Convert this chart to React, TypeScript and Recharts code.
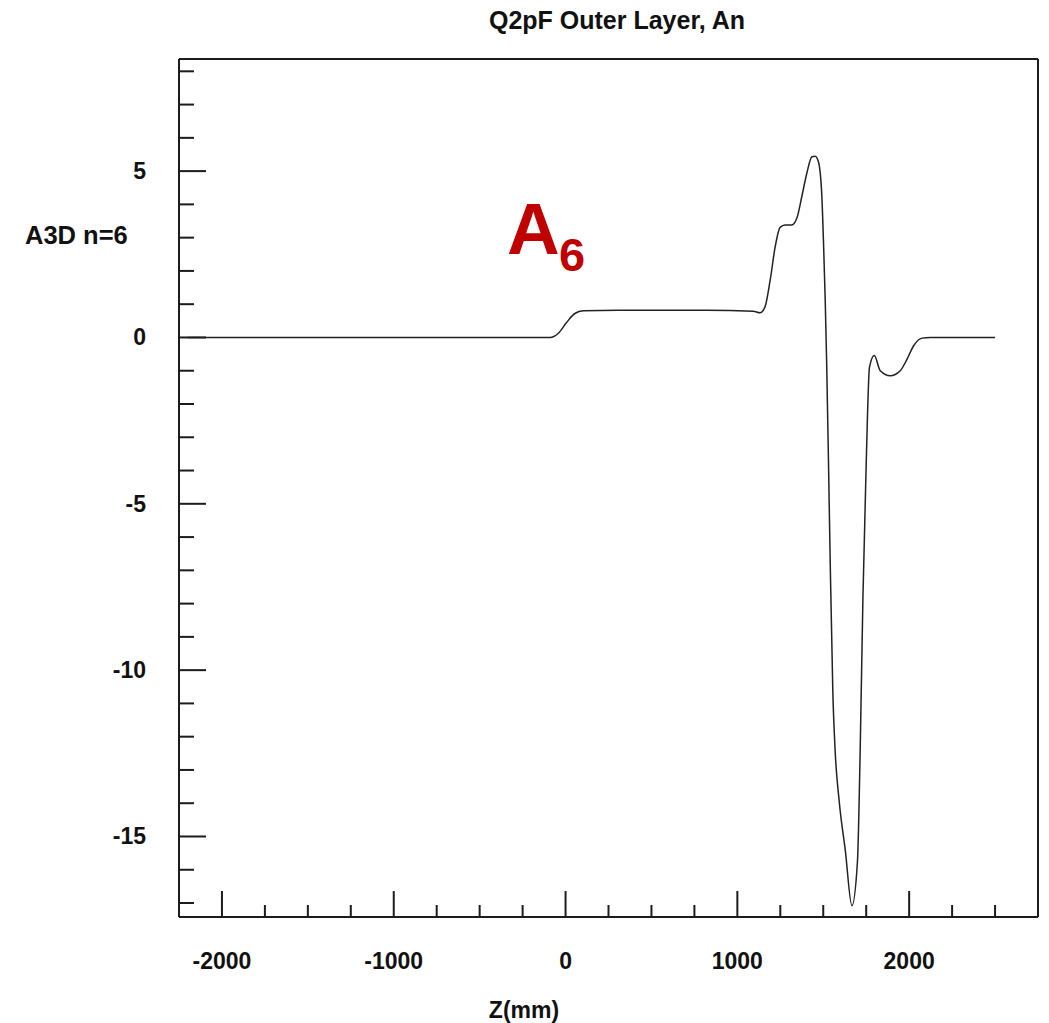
import React from 'react';
import { LineChart, Line, XAxis, YAxis } from 'recharts';

// Z position along the magnet (mm)
const zValues = [
  -2200, -500, -91, -43, 6, 54, 103, 307, 822, 1093, 1132, 1161, 1191, 1220,
  1249, 1278, 1317, 1346, 1375, 1404, 1434, 1453, 1472, 1492, 1501, 1511,
  1520, 1530, 1540, 1556, 1569, 1594, 1628, 1667, 1699, 1715, 1731, 1750,
  1769, 1797, 1832, 1890, 1948, 1987, 2026, 2075, 2123, 2500,
];

// A3D harmonic n=6
const a6Values = [
  0, 0, 0, 0.12, 0.45, 0.72, 0.8, 0.82, 0.82, 0.79, 0.74, 0.92, 1.72, 2.72,
  3.31, 3.38, 3.38, 3.58, 4.23, 4.93, 5.43, 5.45, 5.28, 4.23, 2.92, 1.22,
  -0.8, -3.6, -6.6, -10.7, -12.4, -14.0, -15.4, -17.08, -15.76, -12.4, -7.8,
  -3.8, -0.9, -0.54, -1.0, -1.15, -1.0, -0.66, -0.25, -0.02, 0, 0,
];

const xTicks = [
  -2000, -1750, -1500, -1250, -1000, -750, -500, -250, 0, 250, 500, 750,
  1000, 1250, 1500, 1750, 2000, 2250, 2500,
];
const xLabels = [-2000, -1000, 0, 1000, 2000];

const yTicks = [
  -17, -16, -15, -14, -13, -12, -11, -10, -9, -8, -7, -6, -5, -4, -3, -2, -1,
  0, 1, 2, 3, 4, 5, 6, 7, 8,
];
const yLabels = [-15, -10, -5, 0, 5];

const data = zValues.map((z, i) => ({ z, v: a6Values[i] }));

const FONT = '"Liberation Sans", Arial, Helvetica, sans-serif';
const INK = '#1c1c1c';
const X_DOMAIN: [number, number] = [-2250, 2750];
const Y_DOMAIN: [number, number] = [-17.42, 8.37];

// inward ticks, long at every 1000 mm
const XTick = ({ x, y, payload }: any) => {
  const val = payload.value;
  const major = val % 1000 === 0;
  return (
    <g>
      <line x1={x} x2={x} y1={y} y2={y - (major ? 26 : 12)} stroke={INK} strokeWidth={2} />
      {xLabels.includes(val) && (
        <text x={x} y={y + 52} textAnchor="middle" fontFamily={FONT} fontWeight="bold" fontSize={23} fill="#111">
          {val}
        </text>
      )}
    </g>
  );
};

// inward ticks, long at every 5
const YTick = ({ x, y, payload }: any) => {
  const val = payload.value;
  const major = val % 5 === 0;
  return (
    <g>
      <line x1={x} x2={x + (major ? 27 : 15)} y1={y} y2={y} stroke={INK} strokeWidth={2} />
      {yLabels.includes(val) && (
        <text x={x - 33} y={y + 8} textAnchor="end" fontFamily={FONT} fontWeight="bold" fontSize={23} fill="#111">
          {val}
        </text>
      )}
    </g>
  );
};

export default function App() {
  return (
    <div style={{ position: 'absolute', left: 0, top: 0, width: 1049, height: 1023, background: '#fff' }}>
      <LineChart
        width={1049}
        height={1023}
        data={data}
        margin={{ top: 58, right: 10, bottom: 105, left: 178 }}
      >
        <XAxis
          dataKey="z"
          type="number"
          domain={X_DOMAIN}
          ticks={xTicks}
          interval={0}
          allowDataOverflow
          height={1}
          tickSize={0}
          tickMargin={0}
          tickLine={false}
          tick={<XTick />}
          axisLine={{ stroke: INK, strokeWidth: 2 }}
        />
        <XAxis
          xAxisId="top"
          orientation="top"
          type="number"
          domain={X_DOMAIN}
          height={1}
          tick={false}
          tickLine={false}
          axisLine={{ stroke: INK, strokeWidth: 2 }}
        />
        <YAxis
          type="number"
          domain={Y_DOMAIN}
          ticks={yTicks}
          interval={0}
          allowDataOverflow
          width={1}
          tickSize={0}
          tickMargin={0}
          tickLine={false}
          tick={<YTick />}
          axisLine={{ stroke: INK, strokeWidth: 2 }}
        />
        <YAxis
          yAxisId="right"
          orientation="right"
          type="number"
          domain={Y_DOMAIN}
          width={1}
          tick={false}
          tickLine={false}
          axisLine={{ stroke: INK, strokeWidth: 2 }}
        />
        <Line
          type="monotone"
          dataKey="v"
          stroke="#222"
          strokeWidth={1.5}
          dot={false}
          isAnimationActive={false}
        />
      </LineChart>

      {/* titles and annotation */}
      <svg
        width={1049}
        height={1023}
        style={{ position: 'absolute', left: 0, top: 0, pointerEvents: 'none' }}
      >
        <text x={617} y={29} textAnchor="middle" fontFamily={FONT} fontWeight="bold" fontSize={25} fill="#111">
          Q2pF Outer Layer, An
        </text>
        <text x={25} y={244} fontFamily={FONT} fontWeight="bold" fontSize={25.5} fill="#111">
          A3D n=6
        </text>
        <text x={524} y={1018} textAnchor="middle" fontFamily={FONT} fontWeight="bold" fontSize={23} fill="#111">
          Z(mm)
        </text>
        <text x={507} y={254} fontFamily={FONT} fontWeight="bold" fontSize={73} fill="#C00000">
          A
        </text>
        <text x={559} y={271} fontFamily={FONT} fontWeight="bold" fontSize={47} fill="#C00000">
          6
        </text>
      </svg>
    </div>
  );
}
